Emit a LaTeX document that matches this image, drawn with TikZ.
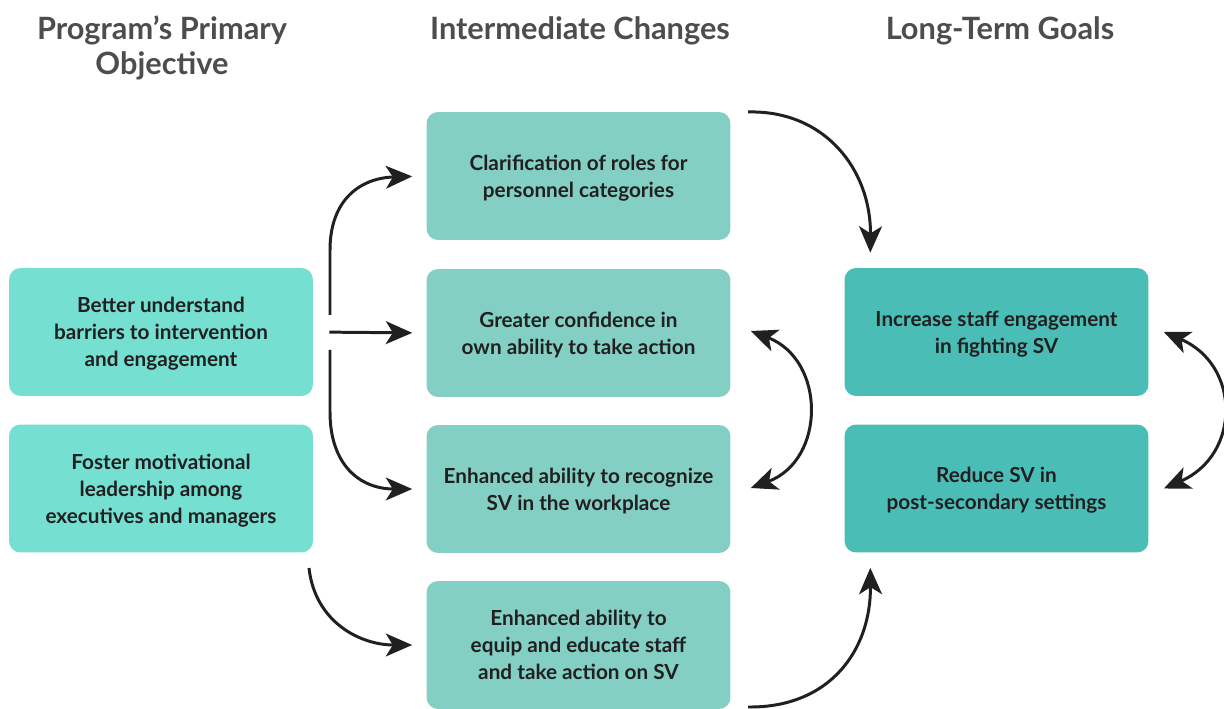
\documentclass[tikz,border=0pt]{standalone}
\usepackage{fontspec}
\setmainfont{Lato}
\usetikzlibrary{calc,arrows.meta}
\definecolor{objfill}{RGB}{117,224,209}
\definecolor{midfill}{RGB}{132,207,196}
\definecolor{goalfill}{RGB}{75,189,183}
\definecolor{headgray}{RGB}{77,77,77}
\definecolor{inkblack}{RGB}{33,31,31}
\tikzset{
	box/.style={rounded corners=6.5pt, minimum width=6.08cm, minimum height=2.56cm, align=center, text depth=0pt, text=inkblack, font=\bfseries\fontsize{11.8}{15.3}\selectfont},
	objbox/.style={box, fill=objfill},
	midbox/.style={box, fill=midfill},
	goalbox/.style={box, fill=goalfill},
	head/.style={align=center, text=headgray, font=\bfseries\fontsize{17.5}{20}\selectfont},
	link/.style={draw=inkblack, line width=1.7pt, -{Stealth[length=15pt, width=13pt, inset=4pt]}},
	twolink/.style={link, {Stealth[length=15pt, width=13pt, inset=4pt]}-{Stealth[length=15pt, width=13pt, inset=4pt]}}
}

\begin{document}
\begin{tikzpicture}[x=0.02cm, y=-0.02cm]
		%%%%% START %%%%%
		\useasboundingbox (0, 0) rectangle (1224, 709);
		
		% column heads
		\node[head] (hobj) at (162, 48) {Program's Primary\\Objective};
		\node[head] (hmid) at (580, 30.5) {Intermediate Changes};
		\node[head] (hgoal) at (1000, 30.5) {Long-Term Goals};
		
		% objectives
		\node[objbox] (obj1) at (161, 332) {Better understand\\barriers to intervention\\and engagement};
		\node[objbox] (obj2) at (161, 488.5) {Foster motivational\\leadership among\\executives and managers};
		
		% intermediate changes
		\node[midbox] (mid1) at (578.5, 176) {Clarification of roles for\\personnel categories};
		\node[midbox] (mid2) at (578.5, 333) {Greater confidence in\\own ability to take action};
		\node[midbox] (mid3) at (578.5, 489) {Enhanced ability to recognize\\SV in the workplace};
		\node[midbox] (mid4) at (578.5, 645) {Enhanced ability to\\equip and educate staff\\and take action on SV};
		
		% goals
		\node[goalbox] (goal1) at (996.5, 332) {Increase staff engagement\\in fighting SV};
		\node[goalbox] (goal2) at (996.5, 488.5) {Reduce SV in\\post-secondary settings};
		
		% free ends
		\coordinate (forkup) at (330, 315);
		\coordinate (forkdn) at (330, 350);
		\coordinate (objtail) at (309, 568);
		\coordinate (midtop) at (748, 112);
		\coordinate (midbot) at (748, 707);
		
		% arrows
		\draw[link, shorten >=0.28cm] (forkup) -- (330, 250) .. controls (330, 200) and (360, 178) .. (mid1.west);
		\draw[link, shorten <=0.32cm, shorten >=0.28cm] (obj1.east) -- (mid2.west);
		\draw[link, shorten >=0.28cm] (forkdn) -- (330, 412) .. controls (330, 465) and (360, 489) .. (mid3.west);
		\draw[link, shorten >=0.28cm] (objtail) .. controls (315, 622) and (360, 645) .. (mid4.west);
		\draw[link, shorten >=0.3cm] (midtop) .. controls (825, 110) and (871, 170) .. ($(goal1.north west)+(26, 0)$);
		\draw[link, shorten >=0.3cm] (midbot) .. controls (830, 708) and (871, 650) .. ($(goal2.south west)+(26, 0)$);
		\draw[twolink] ($(mid2.east)+(20, -2)$) .. controls (826, 360) and (826, 460) .. ($(mid3.east)+(20, -1)$);
		\draw[twolink] ($(goal1.east)+(15, 0)$) .. controls (1241, 365) and (1241, 455) .. ($(goal2.east)+(15, 0)$);
		
		%%%%% END %%%%%
	\end{tikzpicture}
\end{document}
